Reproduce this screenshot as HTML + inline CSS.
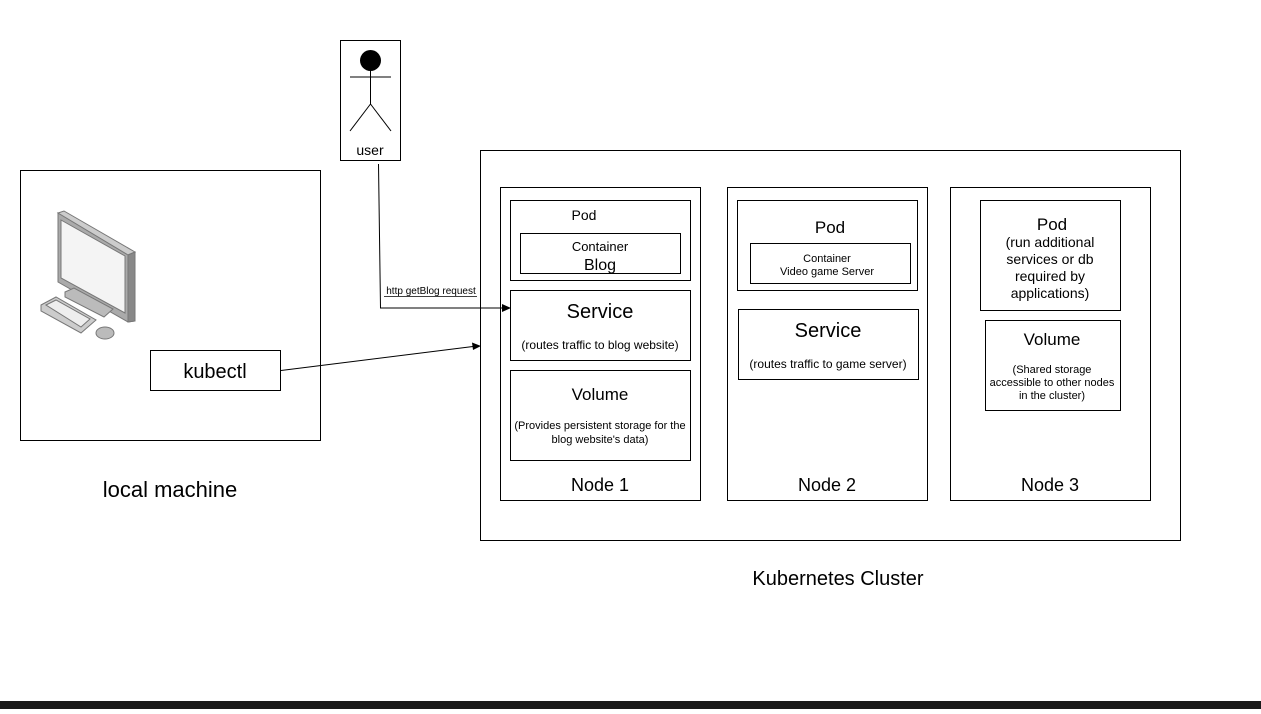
<!DOCTYPE html>
<html><head><meta charset="utf-8"><style>
body{margin:0;width:1261px;height:709px;overflow:hidden;background:#fff}
svg text{font-family:"Liberation Sans",sans-serif;fill:#000}
</style></head><body>
<svg width="1261" height="709" viewBox="0 0 1261 709" xmlns="http://www.w3.org/2000/svg">
<g fill="none" stroke="#000" stroke-width="1">
<rect x="20.5" y="170.5" width="300" height="270"/>
<rect x="340.5" y="40.5" width="60" height="120"/>
<rect x="150.5" y="350.5" width="130" height="40"/>
<rect x="480.5" y="150.5" width="700" height="390"/>
<rect x="500.5" y="187.5" width="200" height="313"/>
<rect x="727.5" y="187.5" width="200" height="313"/>
<rect x="950.5" y="187.5" width="200" height="313"/>
<rect x="510.5" y="200.5" width="180" height="80"/>
<rect x="520.5" y="233.5" width="160" height="40"/>
<rect x="510.5" y="290.5" width="180" height="70"/>
<rect x="510.5" y="370.5" width="180" height="90"/>
<rect x="737.5" y="200.5" width="180" height="90"/>
<rect x="750.5" y="243.5" width="160" height="40"/>
<rect x="738.5" y="309.5" width="180" height="70"/>
<rect x="980.5" y="200.5" width="140" height="110"/>
<rect x="985.5" y="320.5" width="135" height="90"/>
<!-- stick figure -->
<line x1="350" y1="77" x2="391" y2="77"/>
<line x1="370.5" y1="70" x2="370.5" y2="104"/>
<line x1="370.5" y1="104" x2="350" y2="131"/>
<line x1="370.5" y1="104" x2="391" y2="131"/>
<!-- connectors -->
<polyline points="378.5,164 380.5,308 503,308"/>
<line x1="281" y1="370.5" x2="473" y2="346.5"/>
<line x1="384" y1="296.5" x2="477" y2="296.5" stroke-width="0.8"/>
</g>
<circle cx="370.5" cy="60.5" r="10.5" fill="#000"/>
<polygon points="511,308 502,304 502,312" fill="#000"/>
<polygon points="481,346 472,342.5 473,350" fill="#000"/>
<!-- computer -->
<g stroke="#777" stroke-width="1">
<polygon points="58,213 135,253 135,321 128,322 58,282" fill="#aaa"/>
<polygon points="58,213 64,211 135,252 128,255" fill="#ccc"/>
<polygon points="61,220 125,256 125,313 61,278" fill="#f4f4f4"/>
<polygon points="128,255 135,252 135,321 128,322" fill="#888"/>
<polygon points="65,292 74,288 113,309 104,317 65,297" fill="#bbb"/>
<polygon points="41,305 56,297 96,320 81,333 41,311" fill="#ccc"/>
<polygon points="46,305 56,300 90,319 81,327" fill="#eee"/>
<ellipse cx="105" cy="333" rx="9" ry="6" fill="#bbb"/>
</g>
<!-- text -->
<text x="370" y="155" font-size="14" text-anchor="middle">user</text>
<text x="215" y="378" font-size="20" text-anchor="middle">kubectl</text>
<text x="170" y="497" font-size="22" text-anchor="middle">local machine</text>
<text x="838" y="585" font-size="20" text-anchor="middle">Kubernetes Cluster</text>
<text x="431" y="294" font-size="10" text-anchor="middle">http getBlog request</text>
<text x="584" y="220" font-size="14" text-anchor="middle">Pod</text>
<text x="600" y="251" font-size="13" text-anchor="middle">Container</text>
<text x="600" y="270" font-size="16" text-anchor="middle">Blog</text>
<text x="600" y="318" font-size="20" text-anchor="middle">Service</text>
<text x="600" y="349" font-size="12" text-anchor="middle">(routes traffic to blog website)</text>
<text x="600" y="400" font-size="17" text-anchor="middle">Volume</text>
<text x="600" y="429" font-size="11" text-anchor="middle">(Provides persistent storage for the</text>
<text x="600" y="443" font-size="11" text-anchor="middle">blog website's data)</text>
<text x="600" y="491" font-size="18" text-anchor="middle">Node 1</text>
<text x="830" y="233" font-size="17" text-anchor="middle">Pod</text>
<text x="827" y="262" font-size="11" text-anchor="middle">Container</text>
<text x="827" y="275" font-size="11" text-anchor="middle">Video game Server</text>
<text x="828" y="337" font-size="20" text-anchor="middle">Service</text>
<text x="828" y="368" font-size="12" text-anchor="middle">(routes traffic to game server)</text>
<text x="827" y="491" font-size="18" text-anchor="middle">Node 2</text>
<text x="1052" y="230" font-size="17" text-anchor="middle">Pod</text>
<text x="1050" y="247" font-size="14" text-anchor="middle">(run additional</text>
<text x="1050" y="264" font-size="14" text-anchor="middle">services or db</text>
<text x="1050" y="281" font-size="14" text-anchor="middle">required by</text>
<text x="1050" y="298" font-size="14" text-anchor="middle">applications)</text>
<text x="1052" y="345" font-size="17" text-anchor="middle">Volume</text>
<text x="1052" y="373" font-size="11" text-anchor="middle">(Shared storage</text>
<text x="1052" y="386" font-size="11" text-anchor="middle">accessible to other nodes</text>
<text x="1052" y="399" font-size="11" text-anchor="middle">in the cluster)</text>
<text x="1050" y="491" font-size="18" text-anchor="middle">Node 3</text>
<rect x="0" y="701" width="1261" height="8" fill="#1a1a1a"/>
</svg>
</body></html>
